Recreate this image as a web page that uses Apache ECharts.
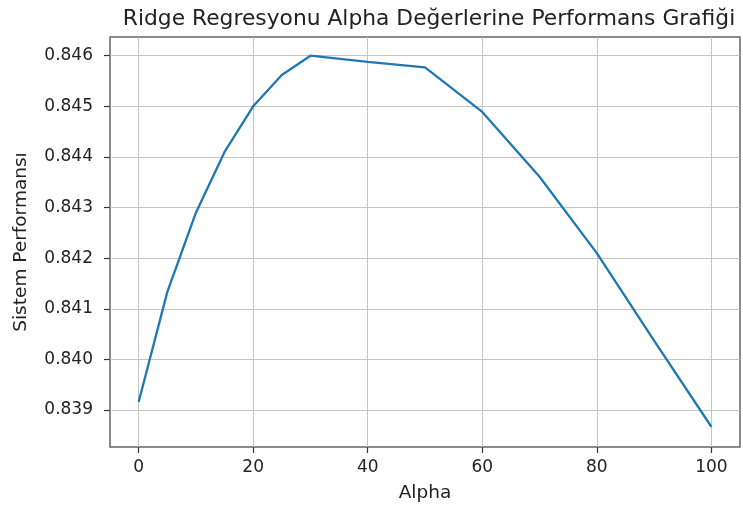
<!DOCTYPE html>
<html>
<head>
<meta charset="utf-8">
<script src="https://cdn.jsdelivr.net/npm/echarts@6/dist/echarts.min.js"></script>
<style>
html,body{margin:0;padding:0;background:#fff;}
#chart{width:743px;height:510px;}
</style>
</head>
<body>
<div id="chart"></div>
<script>
const alphas = [0, 5, 10, 15, 20, 25, 30, 40, 50, 60, 70, 80, 90, 100];
const performance = [0.83916, 0.84133, 0.84290, 0.84410, 0.84500, 0.84562, 0.84600, 0.84588, 0.84577, 0.84489, 0.84361, 0.84210, 0.84037, 0.83867];
const xTicks = [0, 20, 40, 60, 80, 100];
const yTicks = [0.839, 0.840, 0.841, 0.842, 0.843, 0.844, 0.845, 0.846];
const titleText = 'Ridge Regresyonu Alpha Değerlerine Performans Grafiği';
const xName = 'Alpha';
const yName = 'Sistem Performansı';

const FONT = '"DejaVu Sans", sans-serif';
const chart = echarts.init(document.getElementById('chart'), null, {renderer: 'canvas'});
const gridLine = {show: true, lineStyle: {color: '#c4c4c4', width: 1}};
chart.setOption({
  animation: false,
  backgroundColor: '#fff',
  title: {
    text: titleText,
    left: 424, top: 3, textAlign: 'center',
    textStyle: {fontFamily: FONT, fontSize: 21.8, fontWeight: 'normal', color: '#222'}
  },
  grid: {
    left: 110, right: 3, top: 37, bottom: 63,
    show: true, borderColor: '#666', borderWidth: 1.5, backgroundColor: 'transparent'
  },
  xAxis: {
    type: 'value', min: -5, max: 105,
    name: xName, nameLocation: 'middle', nameGap: 37,
    nameTextStyle: {fontFamily: FONT, fontSize: 18.5, color: '#222'},
    axisLine: {show: false, onZero: false},
    axisTick: {show: true, length: 6, customValues: xTicks, lineStyle: {color: '#333', width: 1.2}},
    axisLabel: {customValues: xTicks, margin: 12, fontFamily: FONT, fontSize: 17, color: '#222'},
    splitLine: gridLine
  },
  yAxis: {
    type: 'value', min: 0.83827, max: 0.84637,
    name: yName, nameLocation: 'middle', nameGap: 79, nameRotate: 90,
    nameTextStyle: {fontFamily: FONT, fontSize: 18.5, color: '#222'},
    axisLine: {show: false, onZero: false},
    axisTick: {show: true, length: 6, customValues: yTicks, lineStyle: {color: '#333', width: 1.2}},
    axisLabel: {customValues: yTicks, margin: 17, fontFamily: FONT, fontSize: 17, color: '#222',
      formatter: v => v.toFixed(3)},
    splitLine: gridLine
  },
  series: [{
    type: 'line',
    data: alphas.map((a, i) => [a, performance[i]]),
    showSymbol: false,
    lineStyle: {color: '#1f77b4', width: 2.3},
    itemStyle: {color: '#1f77b4'}
  }]
});
</script>
</body>
</html>
